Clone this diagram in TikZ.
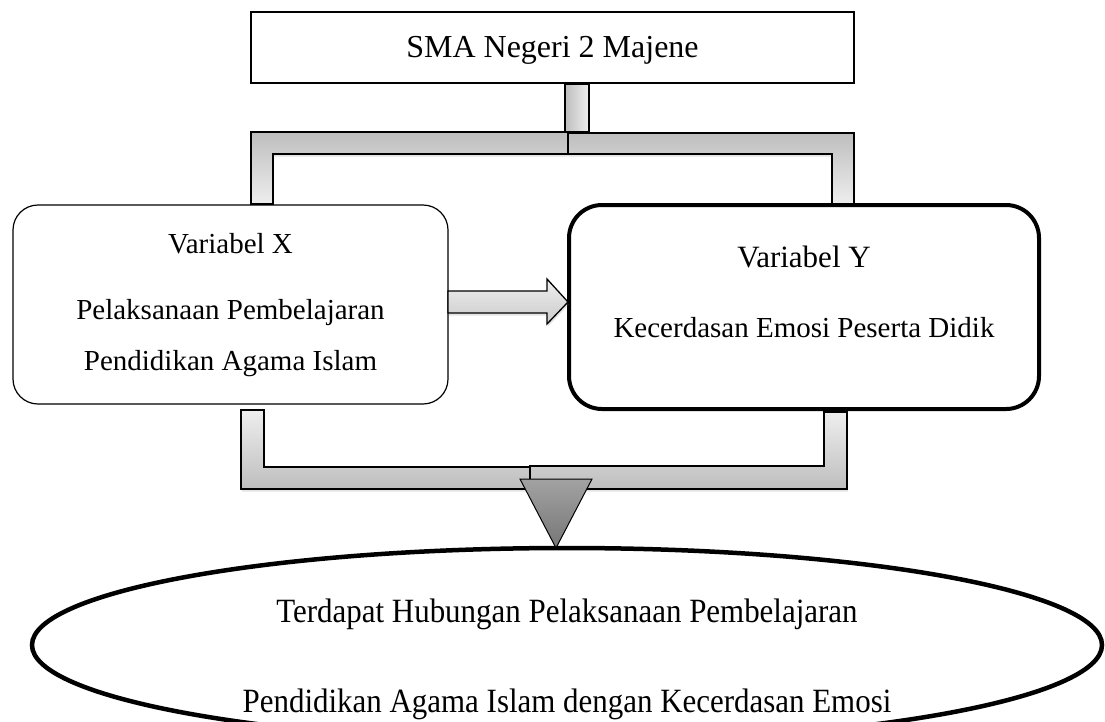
\documentclass[tikz,border=0pt]{standalone}
\usepackage{fontspec}
\setmainfont{Liberation Serif}
\usetikzlibrary{shapes.geometric,shadows}

\definecolor{pipedark}{RGB}{190,190,190}
\definecolor{pipelight}{RGB}{238,238,238}
\definecolor{tridark}{RGB}{118,118,118}
\definecolor{trilight}{RGB}{162,162,162}

\begin{document}
\begin{tikzpicture}[x=1pt,y=-1pt,
  box/.style={draw,fill=white,line width=1.2pt,outer sep=0pt,inner sep=0pt},
  txt/.style={anchor=base,inner sep=0pt,font=\fontsize{29}{34}\selectfont},
  tall/.style={txt,font=\fontsize{34}{40}\selectfont,xscale=0.91},
  pipe/.style={draw,line width=1.3pt,line join=miter,
    drop shadow={opacity=0.22,shadow xshift=1pt,shadow yshift=-2.5pt}},
  pipedown/.style={pipe,top color=pipedark,bottom color=pipelight},
  pipeup/.style={pipe,top color=pipelight,bottom color=pipedark}]
 \useasboundingbox (0,0) rectangle (1105,721);

 % pipes from the school to both variables
 \draw[pipe,left color=pipedark,right color=pipelight] (565,84) rectangle (589,132);
 \draw[pipedown] (251,132) -- (568,132) -- (568,154) -- (273,154) -- (273,204) -- (251,204) -- cycle;
 \draw[pipedown] (568,133) -- (854,133) -- (854,204) -- (832,204) -- (832,154) -- (568,154) -- cycle;

 % pipes from both variables to the result
 \draw[pipeup] (241,410) -- (264,410) -- (264,467) -- (530,467) -- (530,489) -- (241,489) -- cycle;
 \draw[pipeup] (824,412) -- (847,412) -- (847,489) -- (530,489) -- (530,466) -- (824,466) -- cycle;

 \node[box,minimum width=603pt,minimum height=71pt] (sma) at (552.5,47.5) {};
 \node[box,rounded corners=25pt,minimum width=435pt,minimum height=199pt] (varx) at (230.5,304.5) {};
 \node[box,line width=4pt,rounded corners=33pt,minimum width=470pt,minimum height=204pt] (vary) at (804,307) {};
 \node[box,ellipse,line width=4.5pt,minimum width=1070pt,minimum height=194pt] (hasil) at (567,645) {};

 \node[txt,font=\fontsize{32}{38}\selectfont] (smat) at (sma |- 0,57) {SMA Negeri 2 Majene};

 \node[txt] (varxa) at (varx |- 0,253) {Variabel X};
 \node[txt] (varxb) at (varx |- 0,319) {Pelaksanaan Pembelajaran};
 \node[txt] (varxc) at (varx |- 0,370) {Pendidikan Agama Islam};

 \node[txt,font=\fontsize{31}{36}\selectfont] (varya) at (vary |- 0,267) {Variabel Y};
 \node[txt] (varyb) at (vary |- 0,337) {Kecerdasan Emosi Peserta Didik};

 \node[tall] (hasila) at (hasil |- 0,622) {Terdapat Hubungan Pelaksanaan Pembelajaran};
 \node[tall] (hasilb) at (hasil |- 0,712) {Pendidikan Agama Islam dengan Kecerdasan Emosi};

 % arrow X to Y
 \draw[pipe,top color=pipelight,bottom color=pipedark!80!white] (varx.east) ++(0,-13.5)
  -- ++(99,0) -- ++(0,-12) -- ++(21,23) -- ++(-21,22) -- ++(0,-11) -- ++(-99,0) -- cycle;

 % down to the result
 \draw[line width=1pt,top color=trilight,bottom color=tridark] (520,479) -- (592,479) -- (hasil.north -| 556,0) -- cycle;
\end{tikzpicture}
\end{document}
